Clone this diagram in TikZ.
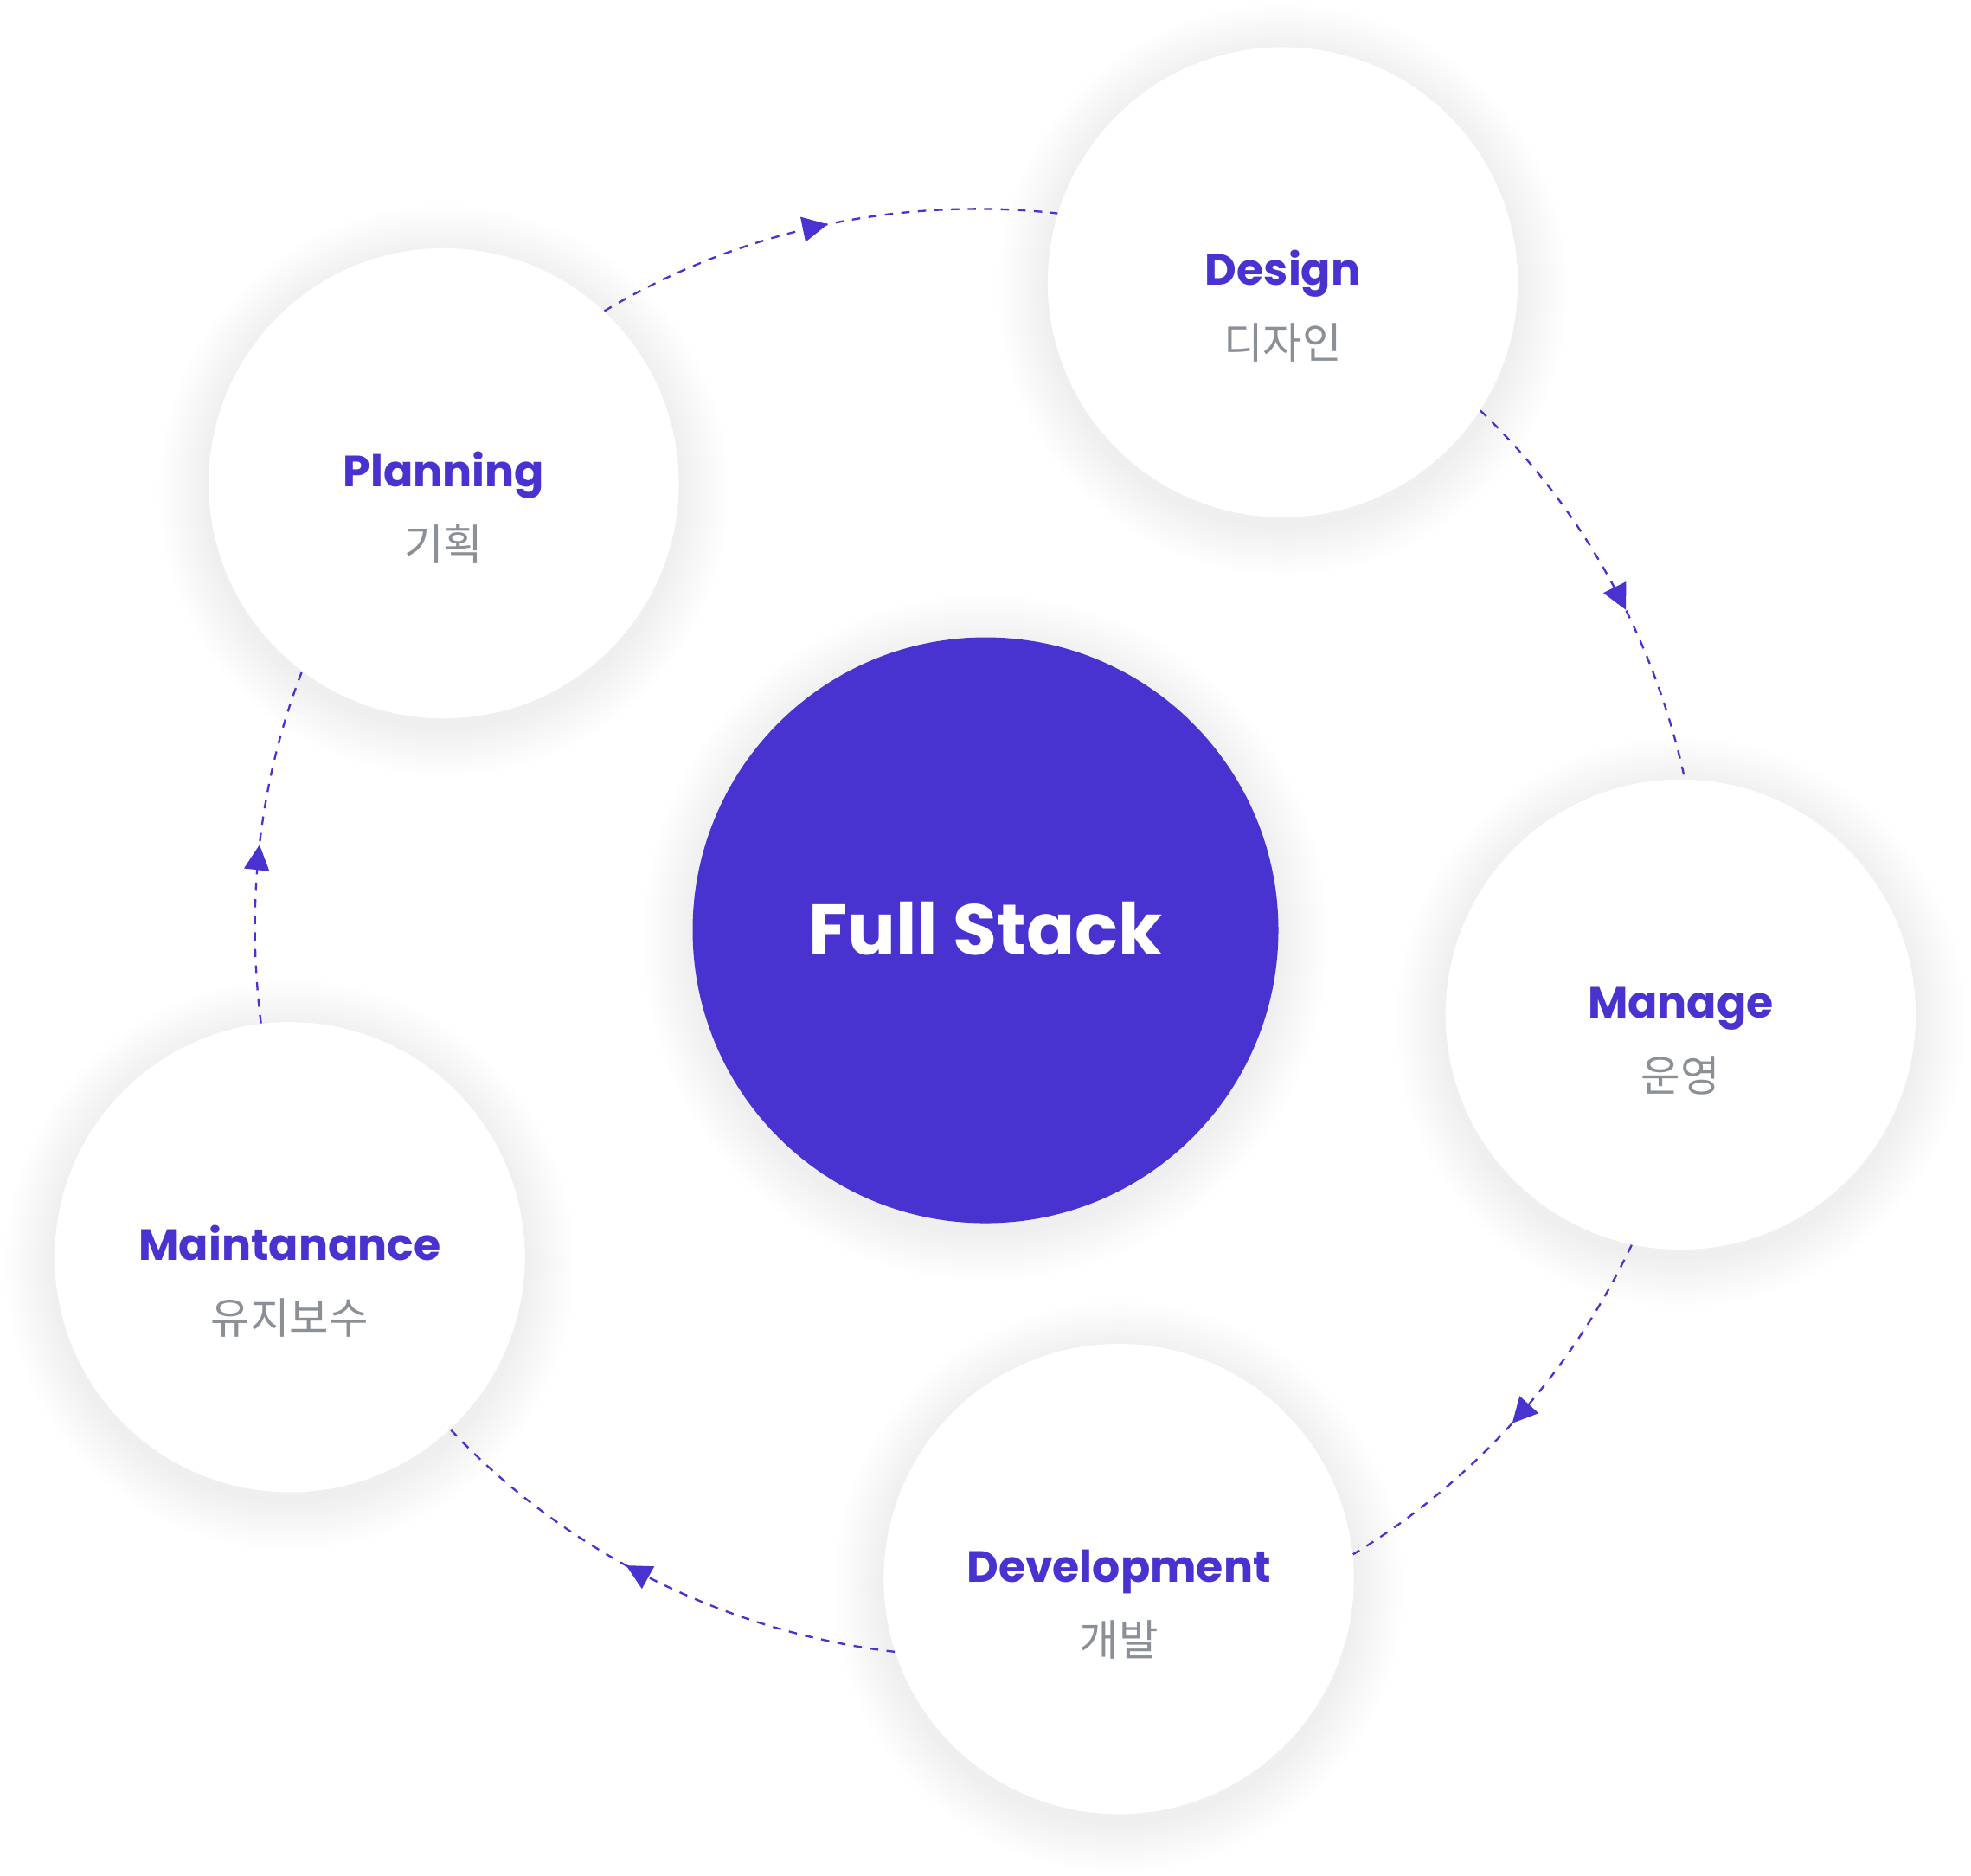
\documentclass[tikz,border=0pt]{standalone}
\usepackage{fontspec}
\newfontfamily\latinfont{Poppins}
\newfontfamily\hangulfont{Noto Sans CJK KR}
\usetikzlibrary{arrows.meta,decorations.markings}
\definecolor{brand}{RGB}{72,51,209}
\definecolor{muted}{RGB}{138,144,150}
\pgfdeclarelayer{back}
\pgfsetlayers{back,main}
\tikzset{
  hub/.style={
    circle, fill=brand, minimum size=233pt, inner sep=0pt,
  },
  stage/.style={
    circle, fill=white, minimum size=187pt, inner sep=0pt,
  },
  hubtxt/.style={
    anchor=base, inner sep=0pt, text=white,
    font=\latinfont\bfseries\fontsize{28.5}{32}\selectfont,
  },
  head/.style={
    anchor=base, inner sep=0pt, text=brand,
    font=\latinfont\bfseries\fontsize{17.4}{21}\selectfont,
  },
  sub/.style={
    anchor=base, inner sep=0pt, text=muted,
    font=\hangulfont\fontsize{17}{20}\selectfont,
  },
  haze/.style={fill=black, fill opacity=0.0036},
  flow/.style={
    draw=brand, line width=0.8pt, dash pattern=on 3.3pt off 3.3pt,
    looseness=0.87, postaction={decorate},
    decoration={markings,
      mark=at position #1 with {\arrow{Triangle[length=10pt,width=10pt]}}},
  },
  flow/.default=0.53,
}

\begin{document}
\begin{tikzpicture}[x=0.5pt,y=0.5pt]
  \useasboundingbox (0,0) rectangle (1568,1492);

  \node[hub] (core) at (784,752) {};
  \node[stage] (plan) at (353,1107.5) {};
  \node[stage] (design) at (1020.5,1267.5) {};
  \node[stage] (manage) at (1337,685) {};
  \node[stage] (dev) at (890,236) {};
  \node[stage] (maint) at (230.5,492) {};

  \node[hubtxt] (coret) at ([yshift=-9.7pt]core) {Full Stack};

  \node[head] (plant) at ([yshift=-1.25pt]plan) {Planning};
  \node[sub] (plans) at ([yshift=-30.5pt]plan) {기획};
  \node[head] (designt) at ([yshift=-1.25pt]design) {Design};
  \node[sub] (designs) at ([yshift=-30.5pt]design) {디자인};
  \node[head] (managet) at ([yshift=-1.25pt]manage) {Manage};
  \node[sub] (manages) at ([yshift=-30.5pt]manage) {운영};
  \node[head] (devt) at ([yshift=-1.25pt]dev) {Development};
  \node[sub] (devs) at ([yshift=-30.5pt]dev) {개발};
  \node[head] (maintt) at ([yshift=-1.25pt]maint) {Maintanance};
  \node[sub] (maints) at ([yshift=-30.5pt]maint) {유지보수};

  \draw[flow=0.51] (plan.47) to[out=31,in=173.65] (design.163);
  \draw[flow=0.58] (design.327) to[out=-43.85,in=102.24] (manage.89);
  \draw[flow=0.51] (manage.258) to[out=-115.5,in=31.14] (dev.6);
  \draw[flow=0.56] (dev.198) to[out=173.44,in=313.2] (maint.313);
  \draw[flow=0.50] (maint.97) to[out=97.2,in=248.8] (plan.233);

  \begin{pgfonlayer}{back}
    \fill[white] (0,0) rectangle (1568,1492);
    \foreach \n/\r in {core/233,plan/187,design/187,manage/187,dev/187,maint/187}
      \foreach \k in {1,...,16}
        \fill[haze] ([yshift=-3pt]\n) circle[radius=\r+2.5*\k];
  \end{pgfonlayer}
\end{tikzpicture}
\end{document}
